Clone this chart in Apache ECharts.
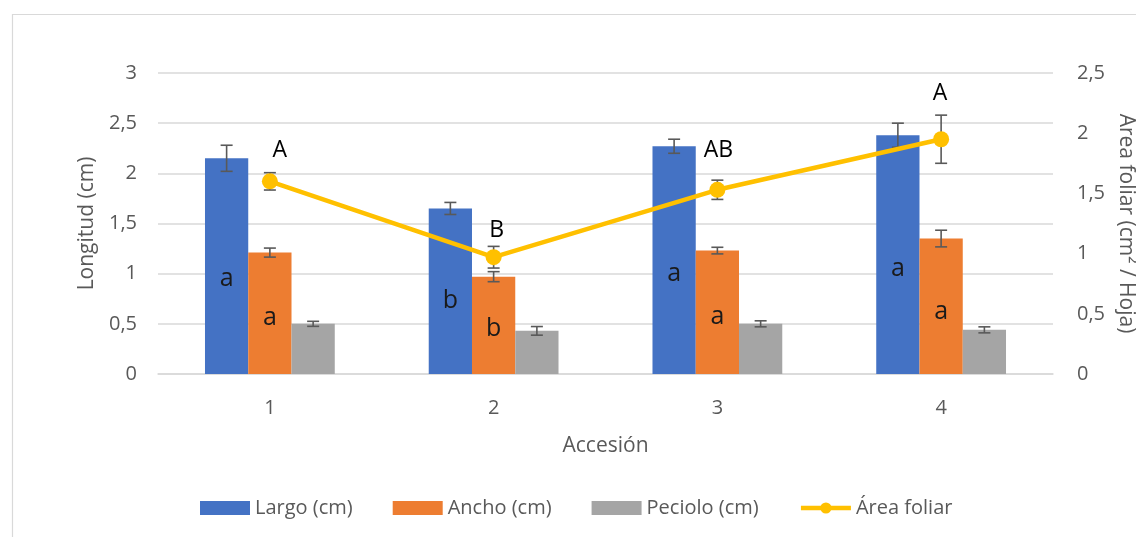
<!DOCTYPE html>
<html>
<head>
<meta charset="utf-8">
<script src="https://cdn.jsdelivr.net/npm/echarts@6/dist/echarts.min.js"></script>
<style>
html,body{margin:0;padding:0;background:#fff;}
#chart{width:1136px;height:537px;}
</style>
</head>
<body>
<div id="chart"></div>
<script>
// ---- data ----
const categories = ['1', '2', '3', '4'];
const largo = [2.15, 1.65, 2.27, 2.38];
const largoErr = [0.13, 0.06, 0.07, 0.12];
const ancho = [1.21, 0.97, 1.23, 1.35];
const anchoErr = [0.045, 0.05, 0.033, 0.083];
const peciolo = [0.50, 0.43, 0.50, 0.44];
const pecioloErr = [0.025, 0.043, 0.03, 0.03];
const area = [1.60, 0.97, 1.53, 1.95];
const areaErr = [0.072, 0.09, 0.08, 0.2];
const largoLetters = ['a', 'b', 'a', 'a'];
const anchoLetters = ['a', 'b', 'a', 'a'];
const areaLetters = ['A', 'B', 'AB', 'A'];
const leftTicks = [0, 0.5, 1, 1.5, 2, 2.5, 3];
const rightTicks = [0, 0.5, 1, 1.5, 2, 2.5];

// ---- styling ----
const FONT = 'Open Sans';
const TXT = '#595959';
const GRID = '#D9D9D9';
const ERR = '#595959';
const GAP = 0.42;
const areaLabelShift = [[10, -31], [3, -27], [1, -39], [-1, -46]];

function fmt(v) { return String(v).replace('.', ','); }

function errData(vals, errs) {
  return vals.map((v, i) => [i, v - errs[i], v + errs[i]]);
}

function makeErrRender(slot) {
  return function (params, api) {
    const idx = api.value(0);
    const base = api.coord([idx, api.value(1)]);
    const top = api.coord([idx, api.value(2)]);
    const band = api.size([1, 0])[0];
    const bw = band * (1 - GAP) / 3;
    const x = base[0] + slot * bw;
    const cap = 6;
    const st = { stroke: ERR, lineWidth: 1.6 };
    return {
      type: 'group',
      children: [
        { type: 'line', shape: { x1: x, y1: base[1], x2: x, y2: top[1] }, style: st },
        { type: 'line', shape: { x1: x - cap, y1: base[1], x2: x + cap, y2: base[1] }, style: st },
        { type: 'line', shape: { x1: x - cap, y1: top[1], x2: x + cap, y2: top[1] }, style: st }
      ]
    };
  };
}

function barLabel(letters, posY) {
  return {
    show: true,
    position: ['50%', posY],
    align: 'center',
    verticalAlign: 'middle',
    fontFamily: FONT,
    fontSize: 25,
    color: '#1a1a1a',
    formatter: p => letters[p.dataIndex]
  };
}

const chart = echarts.init(document.getElementById('chart'), null, { renderer: 'canvas' });

const option = {
  animation: false,
  backgroundColor: '#fff',
  textStyle: { fontFamily: FONT },
  graphic: [{
    type: 'rect', left: 10, top: 12, z: -10,
    shape: { width: 1140, height: 540 },
    style: { fill: 'none', stroke: GRID, lineWidth: 1.2 }
  }],
  grid: { left: 158, right: 83, top: 73, bottom: 163, outerBoundsMode: 'none', containLabel: false },
  legend: {
    left: 195, top: 493,
    itemWidth: 50, itemHeight: 14, itemGap: 40,
    textStyle: { fontFamily: FONT, fontSize: 20, color: TXT },
    data: [
      { name: 'Largo (cm)', icon: 'rect' },
      { name: 'Ancho (cm)', icon: 'rect' },
      { name: 'Peciolo (cm)', icon: 'rect' },
      { name: 'Área foliar', lineStyle: { width: 4.5, color: '#FFC000' } }
    ]
  },
  xAxis: {
    type: 'category',
    data: categories,
    name: 'Accesión',
    nameLocation: 'middle',
    nameGap: 62,
    nameTextStyle: { fontFamily: FONT, fontSize: 21, color: TXT },
    axisLine: { lineStyle: { color: GRID, width: 1.5 } },
    axisTick: { show: false },
    axisLabel: { fontFamily: FONT, fontSize: 20, color: TXT, margin: 24 }
  },
  yAxis: [{
    type: 'value', min: leftTicks[0], max: leftTicks[leftTicks.length - 1], interval: 0.5,
    name: 'Longitud (cm)',
    nameLocation: 'middle', nameGap: 60,
    nameTextStyle: { fontFamily: FONT, fontSize: 21, color: TXT },
    axisLine: { show: false }, axisTick: { show: false },
    axisLabel: { fontFamily: FONT, fontSize: 20, color: TXT, margin: 21, formatter: fmt },
    splitLine: { lineStyle: { color: GRID, width: 1.5 } }
  }, {
    type: 'value', min: rightTicks[0], max: rightTicks[rightTicks.length - 1], interval: 0.5,
    name: 'Area foliar (cm² / Hoja)',
    nameLocation: 'middle', nameGap: 52, nameRotate: -90,
    nameTextStyle: { fontFamily: FONT, fontSize: 21, color: TXT },
    axisLine: { show: false }, axisTick: { show: false },
    axisLabel: { fontFamily: FONT, fontSize: 20, color: TXT, margin: 24, formatter: fmt },
    splitLine: { show: false }
  }],
  series: [
    {
      name: 'Largo (cm)', type: 'bar', data: largo,
      barGap: '0%', barCategoryGap: (GAP * 100) + '%',
      itemStyle: { color: '#4472C4' },
      label: barLabel(largoLetters, '56%'), z: 2
    },
    {
      name: 'Ancho (cm)', type: 'bar', data: ancho,
      itemStyle: { color: '#ED7D31' },
      label: barLabel(anchoLetters, '54%'), z: 2
    },
    {
      name: 'Peciolo (cm)', type: 'bar', data: peciolo,
      itemStyle: { color: '#A5A5A5' }, z: 2
    },
    {
      type: 'custom', renderItem: makeErrRender(-1), data: errData(largo, largoErr),
      encode: { x: 0, y: [1, 2] }, z: 5, silent: true
    },
    {
      type: 'custom', renderItem: makeErrRender(0), data: errData(ancho, anchoErr),
      encode: { x: 0, y: [1, 2] }, z: 5, silent: true
    },
    {
      type: 'custom', renderItem: makeErrRender(1), data: errData(peciolo, pecioloErr),
      encode: { x: 0, y: [1, 2] }, z: 5, silent: true
    },
    {
      type: 'custom', renderItem: makeErrRender(0), data: errData(area, areaErr),
      yAxisIndex: 1, encode: { x: 0, y: [1, 2] }, z: 6, silent: true
    },
    {
      name: 'Área foliar', type: 'line', yAxisIndex: 1,
      data: area.map((v, i) => ({
        value: v,
        label: {
          show: true, position: 'inside', offset: areaLabelShift[i],
          formatter: areaLetters[i], fontFamily: FONT, fontSize: 23, color: '#000'
        }
      })),
      symbol: 'circle', symbolSize: 16,
      lineStyle: { color: '#FFC000', width: 4.5 },
      itemStyle: { color: '#FFC000' },
      z: 10
    }
  ]
};

chart.setOption(option);
</script>
</body>
</html>
